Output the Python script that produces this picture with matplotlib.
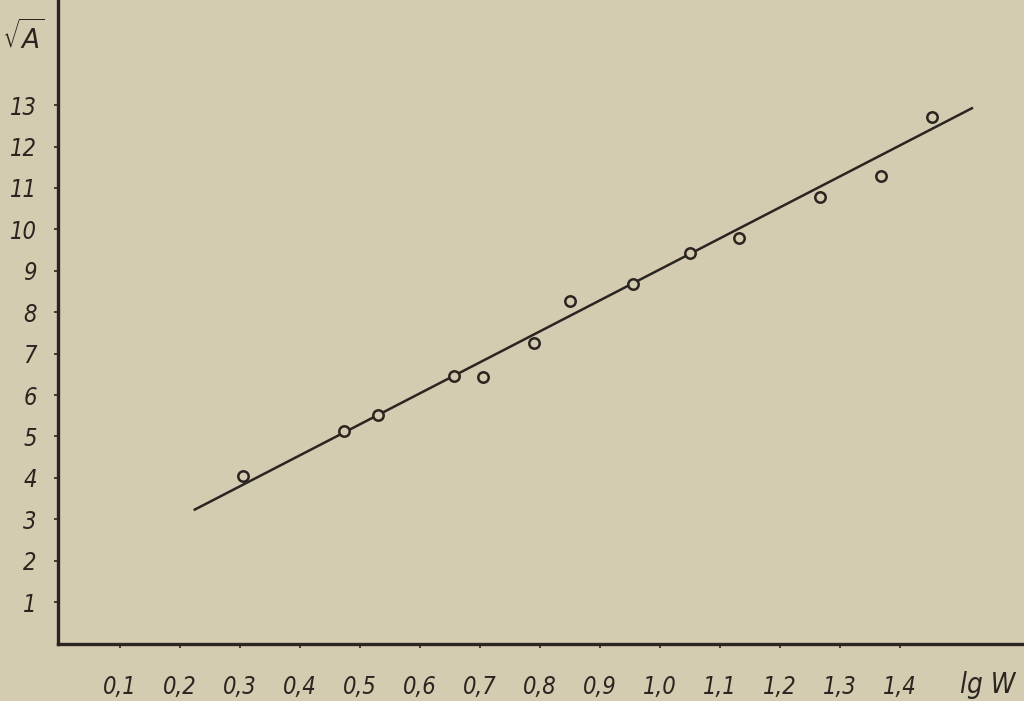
import matplotlib
matplotlib.use("Agg")
import matplotlib.pyplot as plt

# ---- data ----
lgW = [0.305, 0.473, 0.530, 0.657, 0.705, 0.791, 0.850, 0.955, 1.050, 1.132, 1.267, 1.368, 1.454]
sqrtA = [4.05, 5.12, 5.52, 6.47, 6.44, 7.25, 8.26, 8.68, 9.44, 9.80, 10.78, 11.28, 12.72]
fit_x = [0.223, 1.522]
fit_y = [3.22, 12.94]
x_ticks = [0.1, 0.2, 0.3, 0.4, 0.5, 0.6, 0.7, 0.8, 0.9, 1.0, 1.1, 1.2, 1.3, 1.4]
x_tick_labels = ["0,1", "0,2", "0,3", "0,4", "0,5", "0,6", "0,7", "0,8", "0,9",
                 "1,0", "1,1", "1,2", "1,3", "1,4"]
y_ticks = list(range(1, 14))
y_tick_labels = [str(v) for v in y_ticks]

BG = "#d4ccb0"
INK = "#2a2520"

plt.rcParams["font.family"] = ["DejaVu Sans"]

fig = plt.figure(figsize=(10.24, 7.01), dpi=100, facecolor=BG)
left = 57.5 / 1024
bottom = (701 - 643.5) / 701
ax = fig.add_axes([left, bottom, 1.0 - left, 1.0 - bottom])
ax.set_facecolor(BG)

ax.plot(fit_x, fit_y, color=INK, lw=1.8, zorder=2, solid_capstyle="butt")
ax.plot(lgW, sqrtA, linestyle="none", marker="o", ms=7.5, mfc=BG, mec=INK, mew=1.8, zorder=3)

ax.set_xlim(-0.004, 1.607)
ax.set_ylim(0, 15.54)

for s in ["top", "right"]:
    ax.spines[s].set_visible(False)
for s in ["left", "bottom"]:
    ax.spines[s].set_linewidth(2.4)
    ax.spines[s].set_color(INK)

ax.set_xticks(x_ticks)
ax.set_xticklabels(x_tick_labels, fontsize=17, style="italic", stretch="condensed", color=INK)
ax.set_yticks(y_ticks)
ax.set_yticklabels(y_tick_labels, fontsize=17, style="italic", stretch="condensed", color=INK)
ax.tick_params(axis="both", direction="out", length=3, width=1.2, color=INK)
ax.tick_params(axis="x", pad=20)
ax.tick_params(axis="y", pad=12)

fig.text(2 / 1024, 1 - 38 / 701, r"$\sqrt{A}$", fontsize=19, color=INK,
         ha="left", va="center")
fig.text(988 / 1024, 1 - 685 / 701, "lg W", fontsize=20, style="italic",
         stretch="condensed", color=INK, ha="center", va="center")

fig.savefig("out.png", dpi=100, facecolor=BG)
